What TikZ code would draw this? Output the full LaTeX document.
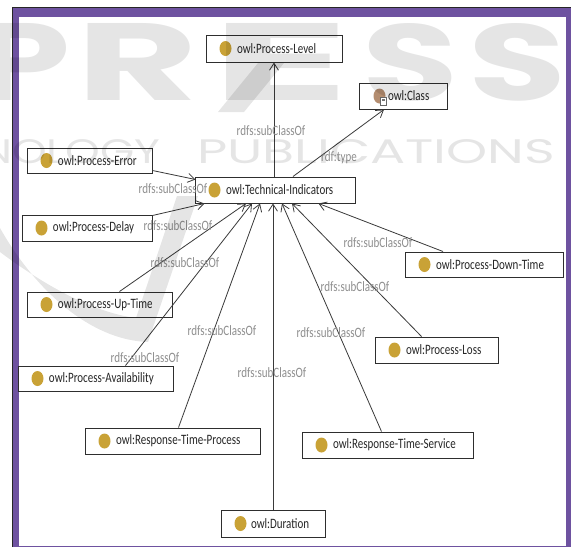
\documentclass[tikz,border=0pt]{standalone}
\usepackage{fontspec}
\usepackage{graphicx}
\setmainfont{Carlito}
\newfontfamily\wmfont{Poppins}
\usetikzlibrary{arrows.meta}

\definecolor{framepurple}{HTML}{6E52A0}
\definecolor{frameedge}{HTML}{262626}
\definecolor{owlgold}{HTML}{C9A236}
\definecolor{owlbrown}{HTML}{B48D70}
\definecolor{edgegray}{HTML}{3A3A3A}
\definecolor{labelgray}{HTML}{8E8E8E}
\definecolor{boxline}{HTML}{2E2E2E}

% graph text is set tall and narrow
\newcommand{\tallbox}[1]{\scalebox{1}[1.3]{#1}}
% class box content: fixed box width, text placed after the icon
\newcommand{\clstext}[3][31]{\makebox[#2pt][l]{\hspace{#1pt}\tallbox{#3}}}
\newcommand{\subcls}{\tallbox{rdfs:subClassOf}}
% stretched watermark lettering
\newcommand{\wmtext}[3]{\resizebox{#1pt}{#2pt}{\wmfont #3}}

\tikzset{
  owlclass/.style={draw=boxline, fill=white, line width=1pt, inner sep=0pt,
    minimum height=#1, font=\fontsize{11}{13}\selectfont, text=black!85},
  edgelabel/.style={text=labelgray, inner sep=0pt, font=\fontsize{11}{13}\selectfont},
  subarrow/.style={draw=edgegray, line width=0.8pt,
    -{Straight Barb[length=7pt,width=9pt]}},
  owlicon/.style={fill=owlgold},
  wmark/.style={text=black, text opacity=0.1, inner sep=0pt, anchor=south west},
}

\begin{document}
\begin{tikzpicture}[x=1pt, y=-1pt]
\useasboundingbox (0,0) rectangle (571,547);

% window frame
\fill[framepurple] (13,8) rectangle (571,547);
\fill[white] (19,16.5) rectangle (566,545.5);
\draw[frameedge, line width=1.5pt] (12.25,547) -- (12.25,7.25) -- (571,7.25);

% classes
\node[owlclass=27pt] (lvl)  at (274,48.5)  {\clstext{136}{owl:Process-Level}};
\node[owlclass=26pt] (cls)  at (403,96)    {\clstext[29]{88}{owl:Class}};
\node[owlclass=26pt] (ti)   at (275,190)   {\clstext{160}{owl:Technical-Indicators}};
\node[owlclass=25pt] (err)  at (89.5,160.5){\clstext{125}{owl:Process-Error}};
\node[owlclass=26pt] (dly)  at (87,228)    {\clstext{130}{owl:Process-Delay}};
\node[owlclass=25pt] (up)   at (99.5,304.5){\clstext{145}{owl:Process-Up-Time}};
\node[owlclass=25pt] (avl)  at (95.5,378.5){\clstext{155}{owl:Process-Availability}};
\node[owlclass=25pt] (down) at (484,264.5) {\clstext{158}{owl:Process-Down-Time}};
\node[owlclass=26pt] (loss) at (436.5,350) {\clstext{123}{owl:Process-Loss}};
\node[owlclass=26pt] (rts)  at (387.5,445) {\clstext{171}{owl:Response-Time-Service}};
\node[owlclass=26pt] (rtp)  at (172.5,441) {\clstext{175}{owl:Response-Time-Process}};
\node[owlclass=27pt] (dur)  at (273,523.5) {\clstext[30]{104}{owl:Duration}};

% class icons
\foreach \n in {lvl,ti,err,dly,up,avl,down,loss,rts,rtp,dur}
  \fill[owlicon] ([xshift=20pt]\n.west) ellipse [x radius=6pt, y radius=7.5pt];
\fill[owlbrown] ([xshift=21pt]cls.west) ellipse [x radius=6pt, y radius=7.5pt];
\draw[black!60, fill=white, line width=0.6pt] ([xshift=22pt,yshift=-1pt]cls.west) rectangle ([xshift=28pt,yshift=-9pt]cls.west);
\fill[black!55] ([xshift=23.5pt,yshift=-3pt]cls.west) rectangle ([xshift=26.5pt,yshift=-5pt]cls.west);

% relations
\draw[subarrow] (ti.north -| lvl.south) -- (lvl.south);
\draw[subarrow] ([xshift=18pt]ti.north) -- ([xshift=-19pt]cls.south);
\draw[subarrow] ([yshift=3pt]err.south east) -- ([xshift=1pt,yshift=-3pt]ti.north west);
\draw[subarrow] ([yshift=-1pt]dly.north east) -- ([xshift=10pt]ti.south west);
\draw[subarrow] ([xshift=20pt]up.north) -- ([xshift=-29pt]ti.south);
\draw[subarrow] ([xshift=30pt]avl.north) -- ([xshift=-23pt]ti.south);
\draw[subarrow] ([xshift=6pt]rtp.north) -- ([xshift=-15pt]ti.south);
\draw[subarrow] (dur.north) -- (ti.south -| dur.north);
\draw[subarrow] ([xshift=-6pt]rts.north) -- ([xshift=7pt]ti.south);
\draw[subarrow] ([xshift=-15pt]loss.north) -- ([xshift=17pt]ti.south);
\draw[subarrow] ([xshift=-41pt]down.north) -- ([xshift=-37pt]ti.south east);

% relation labels
\node[edgelabel] (t1)  at (271,131) {\subcls};
\node[edgelabel] (t2)  at (339,158) {\tallbox{rdf:type}};
\node[edgelabel] (t3)  at (173,189) {\subcls};
\node[edgelabel] (t4)  at (178,226) {\subcls};
\node[edgelabel] (t5)  at (185,263) {\subcls};
\node[edgelabel] (t6)  at (145,358) {\subcls};
\node[edgelabel] (t7)  at (222,331) {\subcls};
\node[edgelabel] (t8)  at (272,373) {\subcls};
\node[edgelabel] (t9)  at (331,333) {\subcls};
\node[edgelabel] (t10) at (355,287) {\subcls};
\node[edgelabel] (t11) at (378,243) {\subcls};

% publisher watermark
\begin{scope}
\clip (0,0) rectangle (571,547);
\node[wmark] (wP)  at (-25,101) {\wmtext{95}{77}{\bfseries P}};
\node[wmark] (wR)  at (76,101)  {\wmtext{122}{77}{\bfseries R}};
\node[wmark] (wE)  at (210,101) {\wmtext{140}{77}{\bfseries E}};
\node[wmark] (wS1) at (362,101) {\wmtext{96}{77}{\bfseries S}};
\node[wmark] (wS2) at (468,101) {\wmtext{98}{77}{\bfseries S}};
\node[wmark] (wT)  at (-130,164) {\wmtext{290}{24}{TECHNOLOGY}};
\node[wmark] (wU)  at (197,164) {\wmtext{358}{24}{PUBLICATIONS}};
\fill[black, fill opacity=0.1] (258,63) -- (284,63) -- (244,112) -- (218,112) -- cycle;
\fill[black, fill opacity=0.1]
  (0,228) .. controls (35,290) and (90,340) .. (148,342)
  -- (198,196) -- (177,196) -- (136,318)
  .. controls (90,312) and (40,282) .. (0,252) -- cycle;
\end{scope}
\end{tikzpicture}
\end{document}
